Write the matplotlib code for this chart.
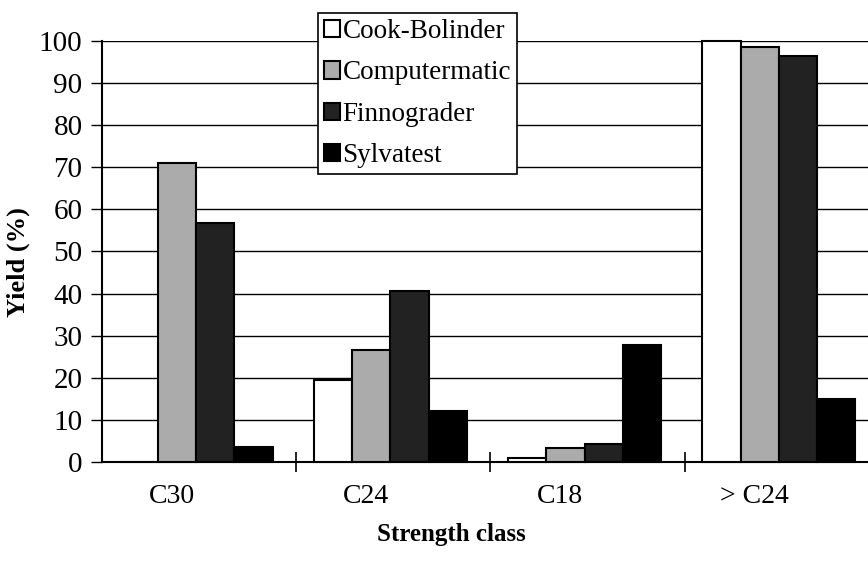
import matplotlib
matplotlib.use('Agg')
import matplotlib.pyplot as plt
import numpy as np

# strength classes and yield (%) per grading machine
categories = ['C30', 'C24', 'C18', '> C24']
cook_bolinder = [0, 19.5, 1, 100]
computermatic = [71, 26.5, 3.2, 98.5]
finnograder = [56.8, 40.5, 4.3, 96.5]
sylvatest = [3.5, 12.2, 27.8, 15]

series = ['Cook-Bolinder', 'Computermatic', 'Finnograder', 'Sylvatest']
values = [cook_bolinder, computermatic, finnograder, sylvatest]
colors = ['white', '#ababab', '#222222', 'black']

plt.rcParams['font.family'] = ['Liberation Serif', 'DejaVu Serif']

fig = plt.figure(figsize=(8.68, 5.76), dpi=100)
ax = fig.add_axes([0.1175, 0.198, 0.895, 0.731])

x = np.arange(len(categories))
width = 0.197
for i, (name, vals, col) in enumerate(zip(series, values, colors)):
    ax.bar(x + (i - 1.5) * width - 0.015, vals, width, color=col,
           edgecolor='black', linewidth=1.5, label=name, zorder=3, clip_on=False)

ax.set_xlim(-0.5, 3.5)
ax.set_ylim(0, 100)
ax.set_yticks(range(0, 101, 10))
ax.yaxis.grid(True, color='black', linewidth=1.0, zorder=0)

# ticks sit between the categories; the scanned labels sit a bit left of centre
ax.set_xticks(x[:-1] + 0.5)
ax.set_xticklabels([])
ax.set_xticks(x - 0.14, minor=True)
ax.set_xticklabels(categories, minor=True, fontsize=20)
ax.tick_params(axis='x', which='major', direction='inout', length=14, width=1.2)
ax.tick_params(axis='x', which='minor', length=0, pad=16)
ax.tick_params(axis='y', direction='out', length=8, width=1.0, labelsize=21, pad=6)

for side in ['top', 'right']:
    ax.spines[side].set_visible(False)
ax.spines['left'].set_linewidth(1.5)
ax.spines['bottom'].set_linewidth(1.5)

ax.set_xlabel('Strength class', fontsize=18, fontweight='bold')
ax.xaxis.set_label_coords(0.45, -0.145)
ax.set_ylabel('Yield (%)', fontsize=19, fontweight='bold')
ax.yaxis.set_label_coords(-0.093, 0.475)

leg = fig.legend(loc='upper left', bbox_to_anchor=(0.366, 0.977), fontsize=19.5,
                 frameon=True, fancybox=False, handlelength=0.6, handleheight=0.6,
                 handletextpad=0.1, borderpad=0.22, labelspacing=0.6,
                 borderaxespad=0)
leg.get_frame().set_edgecolor('black')
leg.get_frame().set_linewidth(1.2)
leg.get_frame().set_alpha(1)

fig.savefig('out.png', dpi=100)
